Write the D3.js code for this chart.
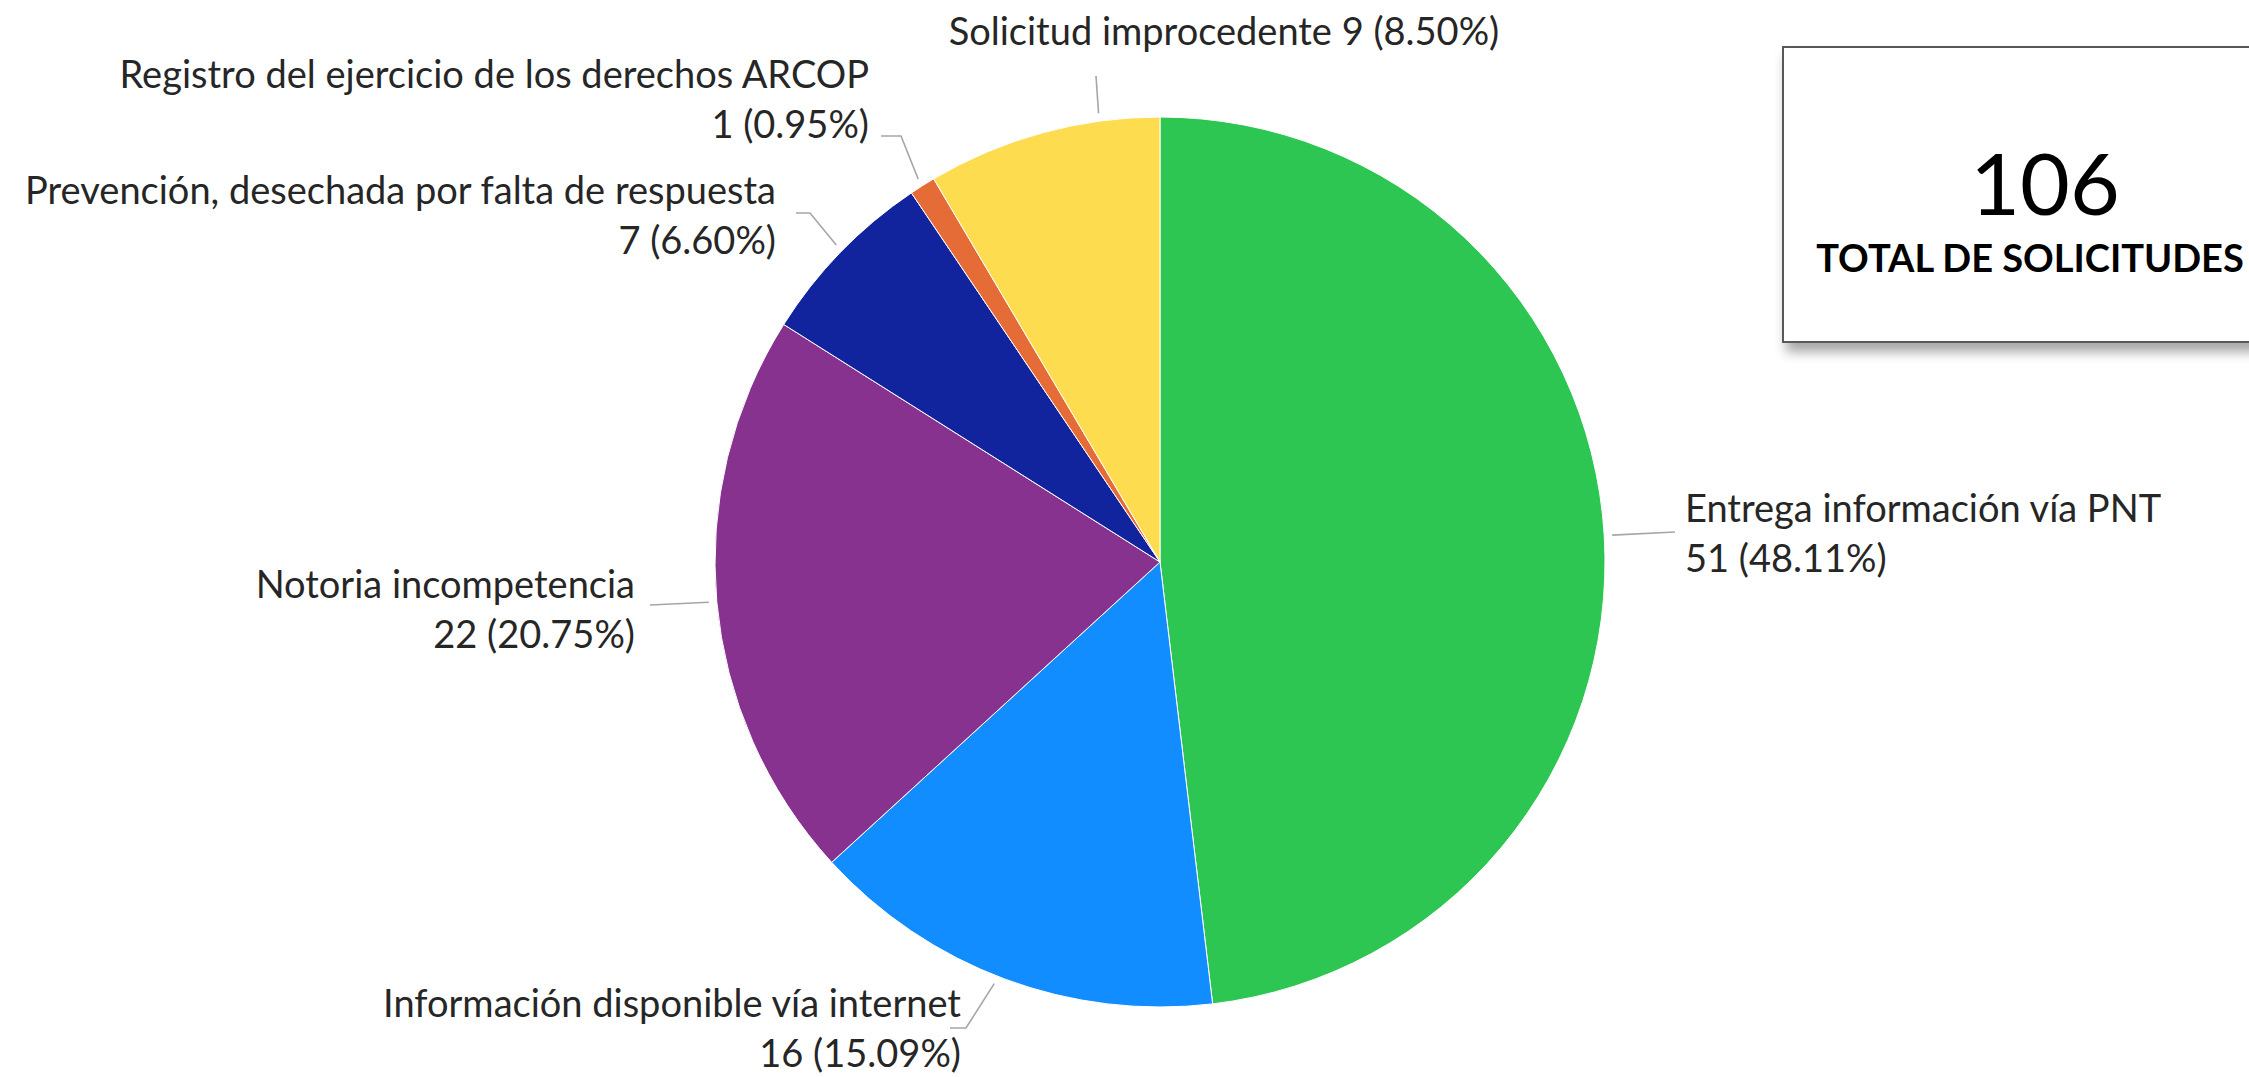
<!DOCTYPE html>
<html>
<head>
<meta charset="utf-8">
<script src="https://cdn.jsdelivr.net/npm/d3@7"></script>
<style>
  body { margin: 0; background: #fff; }
  text { font-family: Lato, "Open Sans", sans-serif; }
</style>
</head>
<body>
<script>
var categories = [
  "Entrega información vía PNT",
  "Información disponible vía internet",
  "Notoria incompetencia",
  "Prevención, desechada por falta de respuesta",
  "Registro del ejercicio de los derechos ARCOP",
  "Solicitud improcedente"
];
var values = [51, 16, 22, 7, 1, 9];
var percentLabels = ["48.11%", "15.09%", "20.75%", "6.60%", "0.95%", "8.50%"];
var colors = ["#2DC653", "#118DFF", "#883290", "#12239E", "#E66C37", "#FEDC4F"];
var totalCaption = "TOTAL DE SOLICITUDES";

var width = 2249,
    height = 1077,
    cx = 1160,
    cy = 562,
    radius = 445;

// label placement: anchor, x, centre of first line, position of leader along the slice,
// and the bent points of the leader line near the label
var labelLayout = [
  {anchor: "start",  x: 1685, y: 509, t: 0.5,  bend: [[1675, 532]], oneLine: false},
  {anchor: "end",    x: 961,  y: 1004, t: 0.52, bend: [[966, 1028], [950, 1028]], oneLine: false},
  {anchor: "end",    x: 635,  y: 585, t: 0.5,  bend: [[650, 605]], oneLine: false},
  {anchor: "end",    x: 776,  y: 191, t: 0.51, bend: [[810, 213], [796, 213]], oneLine: false},
  {anchor: "end",    x: 869,  y: 75,  t: 0.5,  bend: [[901, 136], [881, 136]], oneLine: false},
  {anchor: "middle", x: 1224, y: 32,  t: 0.745, bend: [[1096, 76]], oneLine: true}
];

var svg = d3.select("body").append("svg")
    .attr("width", width)
    .attr("height", height);

var defs = svg.append("defs");
defs.append("filter")
    .attr("id", "shadow")
    .attr("x", "-10%").attr("y", "-10%")
    .attr("width", "130%").attr("height", "140%")
  .append("feDropShadow")
    .attr("dx", 4).attr("dy", 9)
    .attr("stdDeviation", 6)
    .attr("flood-color", "#000")
    .attr("flood-opacity", 0.35);

var data = categories.map((c, i) => ({name: c, value: values[i], pct: percentLabels[i], color: colors[i]}));

var pie = d3.pie()
    .sort(null)
    .value((d) => d.value);

var arc = d3.arc()
    .innerRadius(0)
    .outerRadius(radius);

var arcs = pie(data);

var g = svg.append("g")
    .attr("transform", `translate(${cx},${cy})`);

g.selectAll("path.slice")
    .data(arcs)
  .enter().append("path")
    .attr("class", "slice")
    .attr("d", arc)
    .attr("fill", (d) => d.data.color)
    .attr("stroke", "#fff")
    .attr("stroke-width", 1);

// leader lines
var line = d3.line();
arcs.forEach((d, i) => {
  var L = labelLayout[i];
  var a = d.startAngle + (d.endAngle - d.startAngle) * L.t;
  var r0 = radius + 8;
  var p0 = [cx + r0 * Math.sin(a), cy - r0 * Math.cos(a)];
  svg.append("path")
      .attr("d", line([p0].concat(L.bend)))
      .attr("fill", "none")
      .attr("stroke", "#a6a6a6")
      .attr("stroke-width", 1.6);
});

// labels
var fontSize = 38;
arcs.forEach((d, i) => {
  var L = labelLayout[i];
  var t = svg.append("text")
      .attr("x", L.x)
      .attr("text-anchor", L.anchor)
      .attr("fill", "#262626")
      .style("font-size", fontSize + "px");
  if (L.oneLine) {
    t.attr("y", L.y).attr("dy", "0.35em")
        .text(`${d.data.name} ${d.data.value} (${d.data.pct})`);
  } else {
    t.append("tspan").attr("x", L.x).attr("y", L.y).attr("dy", "0.35em").text(d.data.name);
    t.append("tspan").attr("x", L.x).attr("y", L.y + 50).attr("dy", "0.35em")
        .text(`${d.data.value} (${d.data.pct})`);
  }
});

// total box
var box = svg.append("g");
box.append("rect")
    .attr("x", 1783).attr("y", 47)
    .attr("width", 520).attr("height", 295)
    .attr("fill", "#fff")
    .attr("stroke", "#595959")
    .attr("stroke-width", 2)
    .attr("filter", "url(#shadow)");

box.append("text")
    .attr("x", 2045).attr("y", 184)
    .attr("dy", "0.36em")
    .attr("text-anchor", "middle")
    .attr("fill", "#000")
    .style("font-size", "86px")
    .text(d3.sum(values));

box.append("text")
    .attr("x", 2030).attr("y", 258)
    .attr("dy", "0.36em")
    .attr("text-anchor", "middle")
    .attr("fill", "#000")
    .style("font-size", "38px")
    .style("font-weight", "bold")
    .text(totalCaption);
</script>
</body>
</html>
